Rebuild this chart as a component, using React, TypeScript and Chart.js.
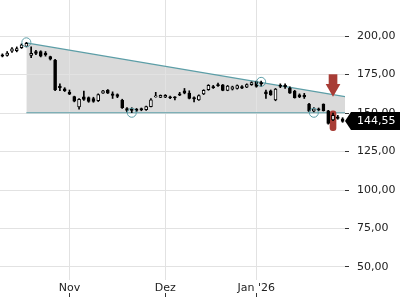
import React, { useEffect, useRef } from 'react';
import { Chart, registerables } from 'chart.js';

Chart.register(...registerables);

// Trading days (categories)
const dates = [
  '2025-10-14', '2025-10-15', '2025-10-16', '2025-10-17', '2025-10-20', '2025-10-21', '2025-10-22',
  '2025-10-23', '2025-10-24', '2025-10-27', '2025-10-28', '2025-10-29', '2025-10-30', '2025-10-31',
  '2025-11-03', '2025-11-04', '2025-11-05', '2025-11-06', '2025-11-07', '2025-11-10', '2025-11-11',
  '2025-11-12', '2025-11-13', '2025-11-14', '2025-11-17', '2025-11-18', '2025-11-19', '2025-11-20',
  '2025-11-21', '2025-11-24', '2025-11-25', '2025-11-26', '2025-11-27', '2025-11-28',
  '2025-12-01', '2025-12-02', '2025-12-03', '2025-12-04', '2025-12-05', '2025-12-08', '2025-12-09',
  '2025-12-10', '2025-12-11', '2025-12-12', '2025-12-15', '2025-12-16', '2025-12-17', '2025-12-18',
  '2025-12-19', '2025-12-22', '2025-12-23', '2025-12-29', '2025-12-30',
  '2026-01-02', '2026-01-05', '2026-01-06', '2026-01-07', '2026-01-08', '2026-01-09', '2026-01-12',
  '2026-01-13', '2026-01-14', '2026-01-15', '2026-01-16', '2026-01-19', '2026-01-20', '2026-01-21',
  '2026-01-22', '2026-01-23', '2026-01-26', '2026-01-27', '2026-01-28',
];

const opens = [
  187.8, 187.5, 190.3, 190.5, 192.5, 193.3, 187.5, 190.0, 190.0, 189.0,
  186.8, 184.5, 167.5, 165.8, 163.5, 160.7, 154.0, 160.5, 160.0, 159.5,
  158.0, 163.0, 165.0, 162.5, 162.0, 158.5, 153.0, 153.0, 152.6, 153.0,
  152.2, 154.2, 160.5, 160.2, 160.3, 160.6, 160.5, 162.5, 164.5, 163.0,
  160.0, 158.6, 162.5, 165.2, 167.3, 168.5, 168.3, 164.8, 165.6, 166.0,
  167.3, 166.8, 168.5, 170.3, 169.8, 163.8, 164.5, 158.5, 168.2, 168.0,
  166.2, 164.3, 161.8, 161.5, 155.8, 151.3, 152.8, 155.8, 151.5, 145.5,
  147.5, 146.2,
];
const highs = [
  188.5, 190.0, 192.5, 193.0, 195.0, 196.0, 193.0, 190.8, 190.5, 190.0,
  187.0, 185.0, 169.0, 166.5, 165.0, 161.0, 159.5, 164.3, 160.5, 160.3,
  162.5, 164.8, 165.3, 163.8, 162.5, 159.0, 153.5, 153.5, 153.0, 153.3,
  154.6, 159.5, 163.5, 161.8, 162.0, 161.0, 160.8, 163.5, 166.0, 164.5,
  160.5, 161.8, 165.2, 168.5, 168.0, 169.5, 168.6, 168.0, 167.5, 168.3,
  167.8, 169.0, 170.3, 170.8, 170.8, 165.0, 165.0, 166.0, 169.0, 169.0,
  167.0, 164.8, 162.5, 162.8, 156.3, 153.5, 153.3, 156.0, 151.8, 150.0,
  148.5, 147.0,
];
const lows = [
  186.5, 187.0, 189.5, 189.8, 192.0, 193.0, 186.0, 188.0, 186.5, 187.0,
  184.5, 164.5, 164.5, 164.0, 162.0, 157.3, 152.5, 158.3, 157.0, 157.0,
  157.5, 162.8, 162.7, 159.5, 160.0, 153.0, 150.8, 150.3, 151.0, 151.5,
  151.8, 154.0, 160.3, 160.0, 160.0, 159.3, 158.5, 161.3, 162.5, 159.2,
  157.3, 158.2, 162.0, 164.8, 166.0, 167.3, 164.5, 164.5, 165.0, 165.6,
  165.8, 166.5, 168.0, 166.8, 167.3, 159.5, 161.5, 158.0, 166.5, 166.0,
  162.7, 159.7, 160.0, 159.5, 150.9, 150.7, 151.5, 151.3, 142.8, 145.0,
  146.0, 144.0,
];
const closes = [
  187.0, 189.0, 191.8, 192.0, 194.3, 195.3, 188.8, 188.8, 187.0, 187.8,
  185.0, 165.0, 166.5, 164.5, 162.3, 157.8, 159.0, 158.8, 157.5, 157.5,
  162.0, 164.5, 163.0, 161.5, 160.8, 153.5, 151.8, 151.8, 151.8, 152.0,
  154.2, 158.6, 161.2, 161.5, 161.6, 159.8, 159.8, 161.6, 163.0, 159.6,
  159.2, 161.4, 164.8, 168.0, 166.5, 167.8, 164.8, 167.5, 167.0, 167.8,
  166.2, 168.5, 169.8, 167.3, 169.0, 162.5, 161.8, 165.6, 167.3, 167.0,
  163.0, 160.0, 160.5, 160.5, 151.3, 152.8, 152.0, 151.6, 143.2, 148.5,
  146.6, 144.55,
];

// Month ticks (category index -> label)
const monthTickIndex = [14, 34, 53];
const monthTickLabels = ['Nov', 'Dez', "Jan '26"];

// Triangle pattern (x in category-index units)
const upperLine = [{ x: 5, y: 195.6 }, { x: 71.5, y: 160.7 }];
const lowerLine = [{ x: 5, y: 150.2 }, { x: 71.5, y: 150.2 }];
const touchPoints = [
  { x: 5, y: 196.0 },
  { x: 27, y: 150.2 },
  { x: 54, y: 170.3 },
  { x: 65, y: 150.2 },
];

// Signal
const signalIndex = 69;
const arrowShaft = [167.5, 175.0];
const arrowHeadY = 166.2;
const signalBar = [138.5, 151.5];
const lastPrice = 144.55;

const yMin = 41.5;
const yMax = 223.5;
const yStep = 25;

const TEAL = '#5c9ea7';
const RED = '#a83c35';
const GRID = '#e2e2e2';
const FILL = '#dadada';
const TEXT = '#222';

const fmt = (v: number) => v.toFixed(2).replace('.', ',');

const zeroPadding = (scale: any) => {
  scale.paddingLeft = 0;
  scale.paddingRight = 0;
  scale.paddingTop = 0;
  scale.paddingBottom = 0;
};

const overlayPlugin = {
  id: 'overlay',
  afterDraw(chart: any) {
    const { ctx, chartArea, scales } = chart;
    const x = scales.x;
    const y = scales.y;
    ctx.save();
    // x tick marks below labels
    ctx.strokeStyle = '#333';
    ctx.lineWidth = 1;
    monthTickIndex.forEach((i) => {
      const px = Math.round(x.getPixelForValue(i)) + 0.5;
      ctx.beginPath();
      ctx.moveTo(px, chartArea.bottom + 13);
      ctx.lineTo(px, chartArea.bottom + 17);
      ctx.stroke();
    });
    // last price label
    const py = Math.round(y.getPixelForValue(lastPrice));
    const left = chartArea.right;
    ctx.fillStyle = '#000';
    ctx.beginPath();
    ctx.moveTo(left, py);
    ctx.lineTo(left + 6, py - 9);
    ctx.lineTo(chart.width, py - 9);
    ctx.lineTo(chart.width, py + 9);
    ctx.lineTo(left + 6, py + 9);
    ctx.closePath();
    ctx.fill();
    ctx.fillStyle = '#fff';
    ctx.font = '11px "DejaVu Sans"';
    ctx.textBaseline = 'middle';
    ctx.textAlign = 'left';
    ctx.fillText(fmt(lastPrice), left + 12, py + 0.5);
    ctx.restore();
  },
};

export default function App() {
  const ref = useRef<HTMLCanvasElement>(null);

  useEffect(() => {
    if (!ref.current) return;
    Chart.defaults.font.family = '"DejaVu Sans", sans-serif';
    Chart.defaults.font.size = 11;

    const wickData = dates.map((_, i) => [lows[i], highs[i]]);
    const bodyData = dates.map((_, i) => [opens[i], closes[i]]);
    const bodyColors = dates.map((_, i) => (closes[i] >= opens[i] ? '#ffffff' : '#000000'));
    const shaftData = dates.map((_, i) => (i === signalIndex ? arrowShaft : null));
    const signalBarData = dates.map((_, i) => (i === signalIndex ? signalBar : null));

    const chart = new Chart(ref.current, {
      type: 'bar',
      data: {
        labels: dates,
        datasets: [
          {
            type: 'line',
            label: 'upper',
            data: upperLine,
            xAxisID: 'x2',
            borderColor: TEAL,
            borderWidth: 1.2,
            pointRadius: 0,
            fill: '+1',
            backgroundColor: FILL,
            order: 10,
          } as any,
          {
            type: 'line',
            label: 'lower',
            data: lowerLine,
            xAxisID: 'x2',
            borderColor: TEAL,
            borderWidth: 1.2,
            pointRadius: 0,
            fill: false,
            order: 10,
          } as any,
          {
            type: 'bar',
            label: 'signal',
            data: signalBarData,
            backgroundColor: RED,
            barThickness: 6,
            borderRadius: 3,
            borderSkipped: false,
            grouped: false,
            order: 8,
          } as any,
          {
            type: 'bar',
            label: 'wicks',
            data: wickData,
            backgroundColor: '#000',
            barThickness: 1,
            grouped: false,
            order: 6,
          } as any,
          {
            type: 'bar',
            label: 'bodies',
            data: bodyData,
            backgroundColor: bodyColors,
            borderColor: '#000',
            borderWidth: 1,
            borderSkipped: false,
            barThickness: 3,
            grouped: false,
            order: 5,
          } as any,
          {
            type: 'scatter',
            label: 'touches',
            data: touchPoints,
            xAxisID: 'x2',
            pointRadius: 4.5,
            pointBorderWidth: 1,
            borderColor: TEAL,
            backgroundColor: 'rgba(0,0,0,0)',
            order: 3,
          } as any,
          {
            type: 'bar',
            label: 'arrow',
            data: shaftData,
            backgroundColor: RED,
            barThickness: 8,
            grouped: false,
            order: 2,
          } as any,
          {
            type: 'scatter',
            label: 'arrowHead',
            data: [{ x: signalIndex, y: arrowHeadY }],
            xAxisID: 'x2',
            pointStyle: 'triangle',
            rotation: 180,
            pointRadius: 8.5,
            borderWidth: 0,
            backgroundColor: RED,
            borderColor: RED,
            order: 1,
          } as any,
        ],
      },
      options: {
        responsive: false,
        animation: false,
        devicePixelRatio: 1,
        layout: { padding: 0, autoPadding: false },
        plugins: {
          legend: { display: false },
          tooltip: { enabled: false },
          filler: { drawTime: 'beforeDraw' },
        } as any,
        scales: {
          x: {
            type: 'category',
            offset: true,
            position: 'bottom',
            border: { display: false },
            grid: { color: GRID, offset: false, drawTicks: false },
            ticks: {
              autoSkip: false,
              maxRotation: 0,
              padding: 2,
              color: TEXT,
              callback: (v: any) => {
                const k = monthTickIndex.indexOf(Number(v));
                return k >= 0 ? monthTickLabels[k] : '';
              },
            },
            afterBuildTicks: (scale: any) => {
              scale.ticks = monthTickIndex.map((v) => ({ value: v }));
            },
            afterFit: (scale: any) => {
              scale.height = 20;
              zeroPadding(scale);
            },
          },
          x2: {
            type: 'linear',
            display: false,
            min: -0.5,
            max: dates.length - 0.5,
            offset: false,
          },
          y: {
            type: 'linear',
            position: 'right',
            min: yMin,
            max: yMax,
            border: { display: false },
            grid: { color: GRID, tickColor: '#333', tickLength: 4 },
            ticks: {
              stepSize: yStep,
              includeBounds: false,
              padding: 8,
              color: TEXT,
              callback: (v: any) => fmt(Number(v)),
            },
            afterFit: (scale: any) => {
              scale.width = 55;
              zeroPadding(scale);
            },
          },
        },
      } as any,
      plugins: [overlayPlugin],
    });
    return () => chart.destroy();
  }, []);

  return (
    <div style={{ position: 'fixed', left: 0, top: 0, width: 400, height: 300, background: '#fff' }}>
      <canvas ref={ref} width={400} height={300} />
    </div>
  );
}
